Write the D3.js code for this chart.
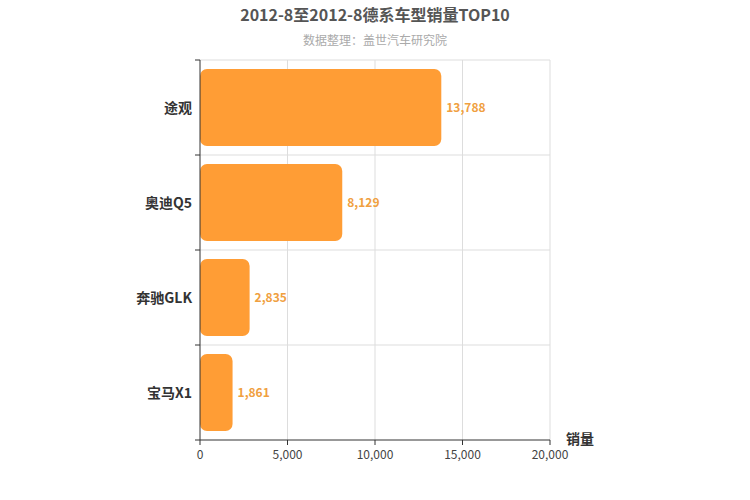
<!DOCTYPE html>
<html><head><meta charset="utf-8">
<script src="https://cdn.jsdelivr.net/npm/d3@7"></script>
<style>body{margin:0;background:#fff;font-family:"Noto Sans CJK SC","Noto Sans",sans-serif}</style>
</head><body><svg id="chart" width="750" height="500"></svg>
<script>
const models = ["途观", "奥迪Q5", "奔驰GLK", "宝马X1"];
const sales = [13788, 8129, 2835, 1861];
const xTicks = [0, 5000, 10000, 15000, 20000];

const svg = d3.select("#chart");
const plotLeft = 200, plotRight = 550, plotTop = 60, plotBottom = 440;

const x = d3.scaleLinear().domain([0, 20000]).range([plotLeft, plotRight]);
const y = d3.scaleBand().domain(models).range([plotTop, plotBottom]).paddingInner(0.19).paddingOuter(0.095);
const band = (plotBottom - plotTop) / models.length;

svg.append("text").attr("x", 375).attr("y", 21).attr("text-anchor", "middle")
  .attr("font-size", 16).attr("font-weight", "bold").attr("fill", "#555")
  .text("2012-8至2012-8德系车型销量TOP10");
svg.append("text").attr("x", 375).attr("y", 45).attr("text-anchor", "middle")
  .attr("font-size", 12).attr("fill", "#aaa").text("数据整理：盖世汽车研究院");

// grid
svg.append("g").selectAll("line").data(xTicks.slice(1)).join("line")
  .attr("x1", d => x(d)).attr("x2", d => x(d)).attr("y1", plotTop).attr("y2", plotBottom)
  .attr("stroke", "#ddd");
svg.append("g").selectAll("line").data(d3.range(models.length)).join("line")
  .attr("x1", plotLeft).attr("x2", plotRight).attr("y1", i => plotTop + i * band).attr("y2", i => plotTop + i * band)
  .attr("stroke", "#ddd");

// bars
svg.append("g").selectAll("rect").data(sales).join("rect")
  .attr("x", plotLeft).attr("y", (d, i) => y(models[i]))
  .attr("width", d => x(d) - plotLeft).attr("height", y.bandwidth())
  .attr("rx", 7).attr("fill", "#ff9d35");

svg.append("g").selectAll("text").data(sales).join("text")
  .attr("x", d => x(d) + 5).attr("y", (d, i) => y(models[i]) + y.bandwidth() / 2 + 4)
  .attr("font-size", 12).attr("font-weight", "bold").attr("fill", "#f0a040")
  .text(d => d3.format(",")(d));

// axes
const ax = svg.append("g").attr("stroke", "#333");
ax.append("line").attr("x1", plotLeft).attr("x2", plotLeft).attr("y1", plotTop).attr("y2", plotBottom);
ax.append("line").attr("x1", plotLeft).attr("x2", plotRight).attr("y1", plotBottom).attr("y2", plotBottom);
ax.selectAll(".yt").data(d3.range(models.length + 1)).join("line").attr("class", "yt")
  .attr("x1", plotLeft - 5).attr("x2", plotLeft).attr("y1", i => plotTop + i * band).attr("y2", i => plotTop + i * band);
ax.selectAll(".xt").data(xTicks).join("line").attr("class", "xt")
  .attr("x1", d => x(d)).attr("x2", d => x(d)).attr("y1", plotBottom).attr("y2", plotBottom + 5);

svg.append("g").selectAll("text").data(xTicks).join("text")
  .attr("x", d => x(d)).attr("y", plotBottom + 19).attr("text-anchor", "middle")
  .attr("font-size", 12).attr("fill", "#444").text(d => d3.format(",")(d));

svg.append("g").selectAll("text").data(models).join("text")
  .attr("x", plotLeft - 8).attr("y", d => y(d) + y.bandwidth() / 2 + 5).attr("text-anchor", "end")
  .attr("font-size", 14).attr("font-weight", "bold").attr("fill", "#333").text(d => d);

svg.append("text").attr("x", 580).attr("y", 444).attr("text-anchor", "middle")
  .attr("font-size", 14).attr("font-weight", "bold").attr("fill", "#333").text("销量");
</script></body></html>
